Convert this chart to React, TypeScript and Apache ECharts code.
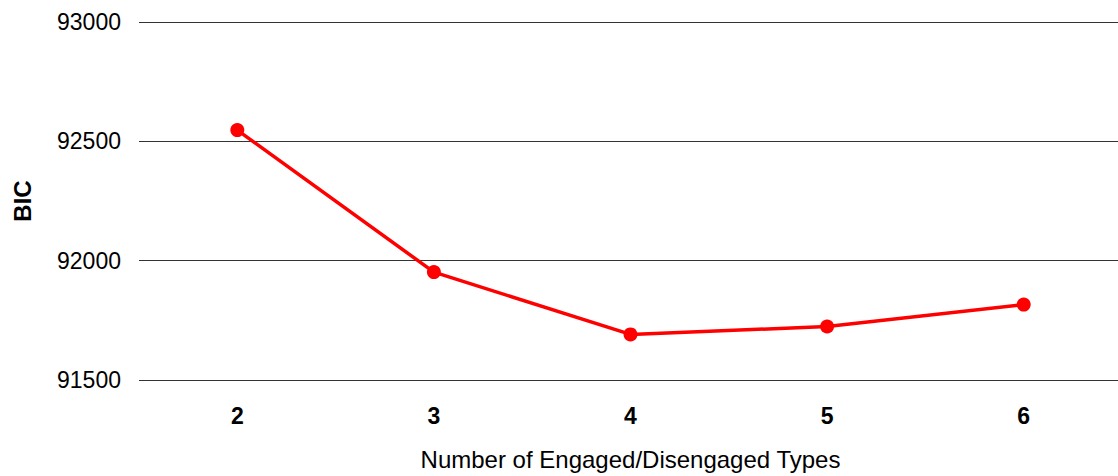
import React, { useEffect, useRef } from "react";
import * as echarts from "echarts";

const categories = ["2", "3", "4", "5", "6"];
const bicValues = [92547, 91952, 91691, 91724, 91816];
const yTicks = { min: 91500, max: 93000, interval: 500 };

export default function App() {
  const ref = useRef<HTMLDivElement>(null);
  useEffect(() => {
    document.body.style.margin = "0";
    const chart = echarts.init(ref.current!, null, { renderer: "svg" });
    const font = "'Liberation Sans', Arial, sans-serif";
    chart.setOption({
      animation: false,
      backgroundColor: "#ffffff",
      grid: { left: 139, top: 22, width: 983, height: 359.3, containLabel: false },
      xAxis: {
        type: "category",
        data: categories,
        boundaryGap: true,
        axisLine: { show: false },
        axisTick: { show: false },
        axisLabel: { color: "#000", fontFamily: font, fontSize: 23, fontWeight: "bold", margin: 24 },
        name: "Number of Engaged/Disengaged Types",
        nameLocation: "middle",
        nameGap: 67,
        nameTextStyle: { color: "#000", fontFamily: font, fontSize: 24 },
      },
      yAxis: {
        type: "value",
        min: yTicks.min,
        max: yTicks.max,
        interval: yTicks.interval,
        axisLine: { show: false },
        axisTick: { show: false },
        axisLabel: {
          color: "#000",
          fontFamily: font,
          fontSize: 23,
          margin: 18,
          formatter: (v: number) => String(v),
        },
        splitLine: { lineStyle: { color: "#333", width: 1 } },
        name: "BIC",
        nameLocation: "middle",
        nameRotate: 90,
        nameGap: 105,
        nameTextStyle: { color: "#000", fontFamily: font, fontSize: 24, fontWeight: "bold" },
      },
      series: [
        {
          type: "line",
          data: bicValues,
          color: "#ff0000",
          lineStyle: { color: "#ff0000", width: 3.5 },
          itemStyle: { color: "#ff0000" },
          symbol: "circle",
          symbolSize: 14,
          showSymbol: true,
        },
      ],
    });
    return () => chart.dispose();
  }, []);
  return (
    <div style={{ width: 1118, height: 476, overflow: "hidden" }}>
      <div ref={ref} style={{ width: 1124, height: 476 }} />
    </div>
  );
}
